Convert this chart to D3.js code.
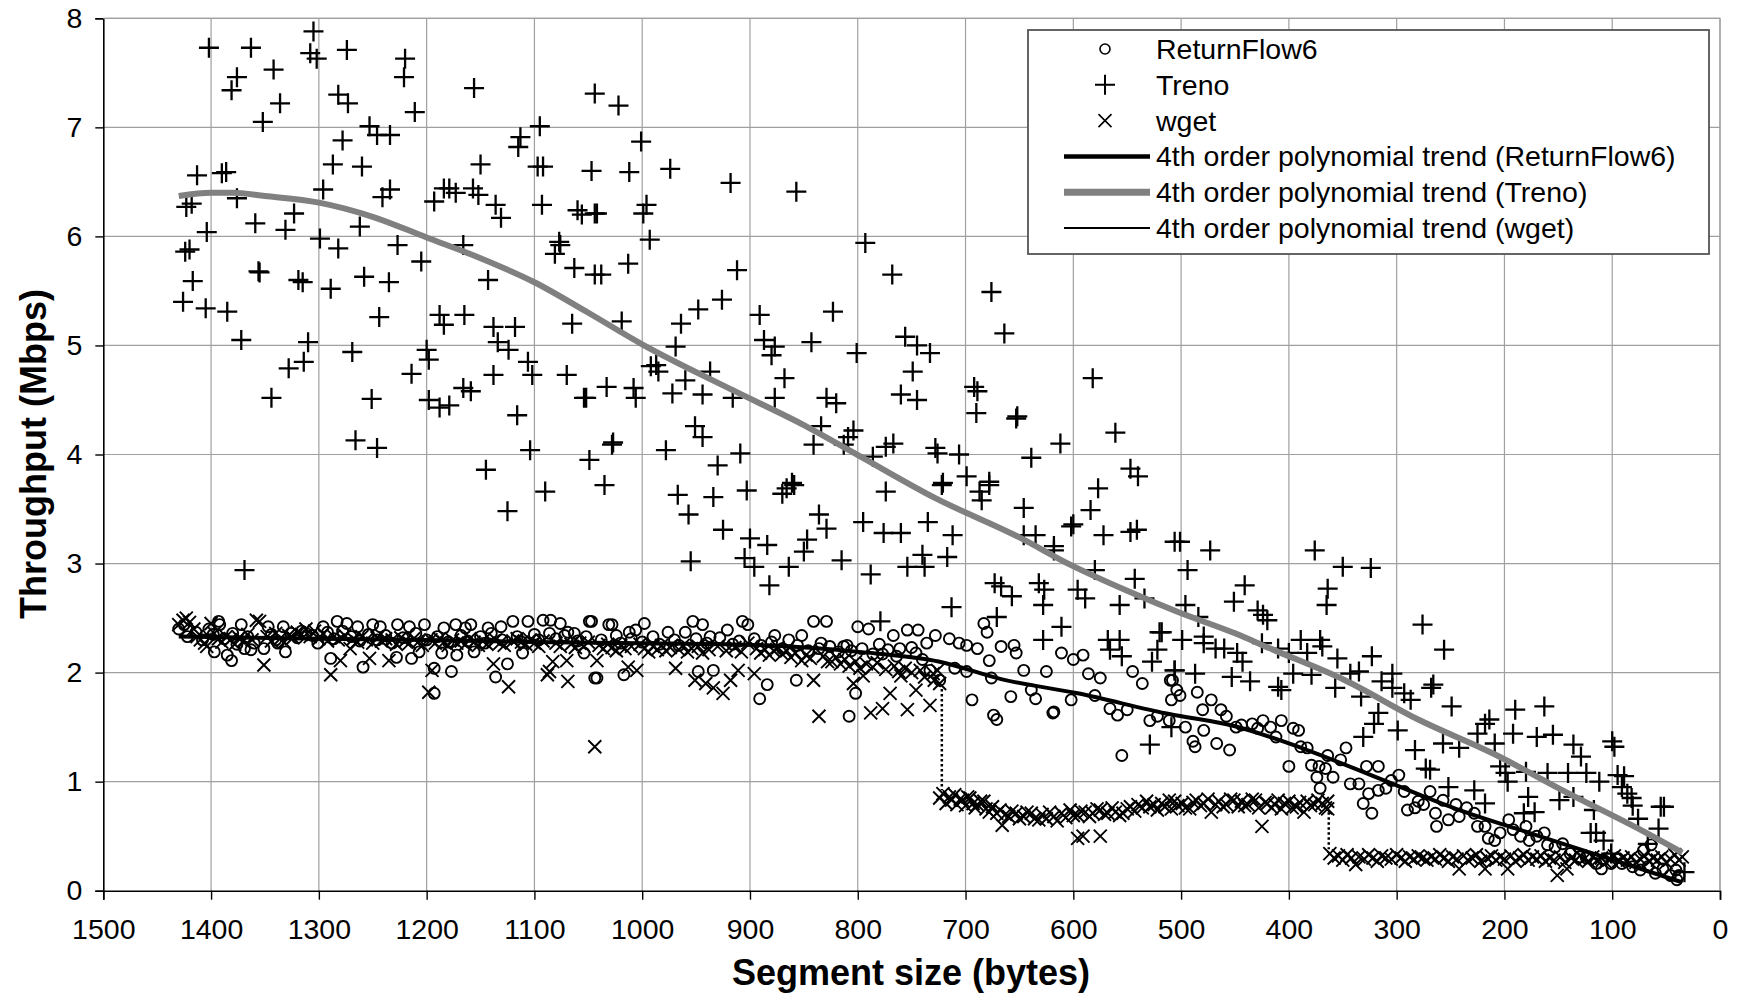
<!DOCTYPE html>
<html lang="en">
<head>
<meta charset="utf-8">
<title>Throughput vs segment size</title>
<script src="https://cdnjs.cloudflare.com/ajax/libs/d3/7.8.5/d3.min.js"></script>
<style>
  body { margin: 0; background: #fff; }
  text { font-family: "Liberation Sans", Arial, sans-serif; fill: #000; }
</style>
</head>
<body>
<script>
// axis ticks
var xTicks = [1500,1400,1300,1200,1100,1000,900,800,700,600,500,400,300,200,100,0];
var yTicks = [0,1,2,3,4,5,6,7,8];

// Treno measurements [segment size, Mbps]
var treno = [
 [1402,7.73],[1363,7.73],[1376,7.46],[1381,7.34],[1342,7.53],[1336,7.22],[1352,7.05],[1305,7.88],[1308,7.68],[1302,7.63],
 [1274,7.71],[1282,7.30],[1273,7.22],[1278,6.88],[1253,7.01],[1246,6.93],[1234,6.93],[1220,7.63],[1221,7.46],[1211,7.14],
 [1156,7.36],[1113,6.91],[1115,6.82],[1095,7.01],[1044,7.31],[1413,6.56],[1386,6.59],[1390,6.58],[1423,6.27],[1418,6.30],
 [1376,6.35],[1404,6.04],[1424,5.86],[1420,5.88],[1417,5.59],[1426,5.40],[1405,5.34],[1385,5.31],[1372,5.05],[1356,5.68],
 [1355,5.67],[1359,6.12],[1331,6.06],[1323,6.21],[1319,5.60],[1315,5.58],[1328,4.79],[1314,4.85],[1310,5.03],[1344,4.52],
 [1296,6.43],[1287,6.66],[1260,6.64],[1299,5.98],[1282,5.89],[1262,6.09],[1289,5.52],[1258,5.63],[1235,5.58],[1241,6.36],
 [1234,6.43],[1227,5.92],[1205,5.77],[1244,5.26],[1269,4.94],[1266,4.13],[1246,4.06],[1251,4.51],[1214,4.74],[1200,4.96],
 [1198,4.87],[1198,4.50],[1188,4.43],[1179,4.45],[1193,6.32],[1184,6.44],[1179,6.44],[1173,6.40],[1157,6.44],[1152,6.38],
 [1150,6.66],[1136,6.29],[1131,6.17],[1166,5.92],[1143,5.60],[1188,5.28],[1184,5.19],[1165,5.28],[1138,5.17],[1118,5.17],
 [1134,5.03],[1124,4.96],[1106,4.85],[1102,4.73],[1138,4.73],[1166,4.61],[1159,4.58],[1116,4.36],[1145,3.86],[1104,4.04],
 [1090,3.66],[1092,6.64],[1097,6.64],[1093,6.29],[1077,5.95],[1076,5.92],[1081,5.84],[1063,5.71],[1065,5.20],[1070,4.73],
 [1054,4.52],[1049,3.95],[1060,6.24],[1056,6.20],[1047,6.60],[1044,6.21],[1044,5.65],[1369,2.94],[1125,3.48],
 [1022,7.20],[1001,6.87],[1012,6.59],[974,6.62],[918,6.49],[857,6.41],[1042,6.21],[999,6.21],[996,6.29],[993,5.97],
 [793,5.94],[1038,5.65],[1013,5.75],[912,5.69],[768,5.65],[676,5.49],[664,5.11],[926,5.42],[948,5.33],[964,5.20],
 [1019,5.22],[969,4.99],[891,5.28],[887,5.05],[877,4.99],[880,4.91],[843,5.03],[823,5.31],[801,4.93],[756,5.08],
 [745,5.00],[733,4.93],[749,4.76],[760,4.55],[745,4.50],[692,4.62],[689,4.58],[690,4.38],[653,4.33],[652,4.35],
 [612,4.10],[582,4.70],[561,4.20],[547,3.87],[540,3.80],[639,3.97],[706,4.00],[726,4.01],[728,4.06],[699,3.80],
 [678,3.75],[721,3.74],[767,4.10],[774,4.07],[786,3.98],[804,4.22],[809,4.16],[813,4.09],[841,4.09],[834,4.26],
 [909,4.01],[930,3.90],[951,4.26],[944,4.16],[978,4.04],[1028,4.09],[1027,4.11],[1035,3.72],[987,4.82],[985,4.76],
 [992,4.81],[1033,4.62],[1052,4.52],[1008,4.61],[1006,4.52],[972,4.56],[960,4.68],[944,4.55],[937,4.76],[916,4.52],
 [877,4.52],[868,4.70],[829,4.52],[820,4.47],[861,3.74],[866,3.69],[903,3.67],[934,3.61],[967,3.63],[774,3.66],
 [687,3.66],[678,3.72],[870,3.64],[859,3.72],[722,3.72],[685,3.58],[577,3.69],[957,3.45],[925,3.31],[900,3.23],
 [884,3.17],[836,3.45],[829,3.32],[847,3.22],[850,3.11],[795,3.38],[776,3.28],[760,3.28],[735,3.38],[712,3.26],
 [646,3.51],[584,3.49],[602,3.34],[600,3.36],[646,3.26],[635,3.26],[618,3.16],[618,3.12],[572,3.26],[547,3.29],
 [541,3.31],[506,3.20],[955,3.02],[905,3.05],[896,2.97],[864,2.97],[815,3.03],[788,2.90],[754,2.97],[740,3.08],
 [738,2.97],[717,3.06],[882,2.80],[673,2.82],[667,2.79],[657,2.70],[632,2.82],[627,2.76],[628,2.62],[596,2.76],
 [589,2.68],[580,2.94],[557,2.62],[543,2.86],[534,2.68],[713,2.60],[671,2.51],[779,2.47],[611,2.42],[628,2.30],
 [568,2.30],[557,2.30],[566,2.21],[555,2.15],[518,2.37],[522,2.21],[527,2.10],[506,2.02],[509,1.50],[529,1.34],
 [501,3.20],[473,3.12],[494,2.94],[376,3.12],[350,2.97],[324,2.96],[364,2.77],[365,2.62],[441,2.80],[451,2.65],
 [429,2.57],[424,2.53],[420,2.48],[496,2.62],[484,2.51],[520,2.37],[499,2.30],[479,2.33],[479,2.27],[468,2.22],
 [460,2.22],[448,2.18],[443,2.10],[453,1.96],[436,1.92],[425,2.27],[410,2.22],[400,2.18],[389,2.30],[383,2.18],
 [371,2.30],[369,2.24],[355,2.13],[379,1.98],[396,1.99],[410,1.87],[407,1.84],[506,2.02],[487,1.99],[343,1.99],
 [335,2.01],[323,2.15],[314,1.92],[304,1.99],[304,1.86],[357,1.86],[333,1.78],[293,1.81],[287,1.75],[266,1.89],
 [268,1.86],[249,1.69],[276,2.44],[256,2.21],[317,1.63],[321,1.53],[299,1.47],[331,1.41],[273,1.12],[269,1.11],
 [283,1.29],[257,1.35],[242,1.31],[228,0.92],[218,0.80],[214,1.57],[218,1.53],[225,1.44],[209,1.35],[190,1.66],
 [192,1.44],[163,1.69],[170,1.41],[155,1.43],[136,1.34],[129,1.23],[124,1.08],[141,1.08],[160,1.08],[149,0.83],
 [136,0.86],[204,1.14],[199,1.08],[197,1.00],[180,1.09],[178,0.86],[172,0.72],[182,0.71],[252,0.95],[112,1.00],
 [100,1.37],[98,1.32],[95,1.06],[89,1.05],[91,0.95],[86,0.89],[82,0.85],[81,0.78],[76,0.66],[117,0.74],
 [120,0.53],[115,0.53],[108,0.46],[55,0.77],[52,0.77],[57,0.57],[67,0.43],[33,0.17],[101,0.34]
];

// ReturnFlow6 measurements
var returnFlow6 = [
 [1425,2.44],[1402,2.40],[1393,2.47],[1392,2.44],[1397,2.19],[1385,2.16],[1381,2.11],[1372,2.44],[1369,2.22],[1363,2.21],
 [1351,2.22],[1347,2.42],[1331,2.19],[1333,2.42],[1338,2.27],[1312,2.36],[1301,2.27],[1296,2.42],[1283,2.47],[1289,2.13],
 [1274,2.45],[1264,2.42],[1259,2.05],[1250,2.44],[1243,2.42],[1228,2.14],[1227,2.44],[1216,2.42],[1214,2.13],[1207,2.19],
 [1202,2.44],[1193,2.04],[1193,1.81],[1186,2.18],[1184,2.41],[1177,2.01],[1173,2.44],[1172,2.16],[1164,2.41],[1159,2.44],
 [1156,2.19],[1143,2.41],[1136,1.96],[1131,2.42],[1125,2.08],[1120,2.47],[1106,2.47],[1111,2.18],[1092,2.48],[1085,2.48],
 [1076,2.45],[1069,2.37],[1063,2.36],[1054,2.18],[1047,2.47],[1044,1.95],
 [1430,2.40],[1422,2.33],[1414,2.37],[1408,2.30],[1398,2.35],[1388,2.31],[1380,2.36],[1376,2.26],[1366,2.33],[1360,2.27],
 [1344,2.35],[1340,2.30],[1326,2.36],[1320,2.32],[1316,2.38],[1306,2.34],[1292,2.37],[1286,2.31],[1278,2.38],[1270,2.33],
 [1262,2.29],[1254,2.35],[1246,2.30],[1238,2.34],[1232,2.27],[1222,2.32],[1210,2.36],[1200,2.30],[1190,2.33],[1180,2.28],
 [1168,2.34],[1162,2.29],[1150,2.33],[1146,2.27],[1140,2.36],[1130,2.30],[1116,2.33],[1112,2.28],[1100,2.35],[1096,2.30],
 [1086,2.36],[1080,2.31],[1072,2.34],[1060,2.29],[1052,2.33],[1038,2.30],[1024,2.34],[1020,2.27],[1010,2.31],[1000,2.28],
 [990,2.33],[984,2.26],[970,2.30],[966,2.25],[950,2.31],[940,2.27],[928,2.32],[916,2.26],[910,2.29],[896,2.31],
 [890,2.25],[880,2.28],[870,2.22],[864,2.30],[856,2.25],[846,2.20],[834,2.27],[826,2.24],[818,2.19],[810,2.25],
 [806,2.20],[796,2.22],[786,2.17],[780,2.26],[772,2.21],[764,2.15],[750,2.23],[746,2.18],[740,2.12],
 [1049,2.47],[1031,2.44],[1028,2.44],[1042,1.95],[1017,1.98],[1012,2.37],[1006,2.39],[998,2.45],[976,2.37],[960,2.37],
 [953,2.47],[944,2.44],[937,2.33],[921,2.39],[948,2.01],[934,2.02],[907,2.47],[902,2.44],[877,2.34],[884,1.89],
 [891,1.76],[852,2.34],[841,2.47],[829,2.47],[857,1.93],[836,2.22],[813,2.24],[800,2.42],[790,2.40],[802,1.81],
 [808,1.60],[777,2.17],[767,2.34],[761,2.22],[754,2.39],[744,2.39],[736,2.27],[728,2.34],[733,2.02],[724,1.93],
 [715,2.31],[706,2.27],[699,2.25],[710,2.04],[699,2.01],[694,1.75],[689,2.22],[683,2.45],[680,2.37],[678,2.11],
 [676,1.95],[674,1.61],[671,1.57],[667,2.24],[658,1.78],[655,2.25],[653,2.18],[646,2.02],[639,1.84],[635,1.76],
 [625,2.01],[619,1.63],[618,1.64],[611,2.18],[602,1.75],[600,2.12],[591,2.16],[586,1.99],[580,1.79],[575,1.95],
 [566,1.67],[559,1.61],[550,1.66],[555,1.24],[545,2.01],[536,1.90],[529,1.56],[522,1.60],[508,1.93],[509,1.75],
 [510,1.93],[504,1.84],[501,1.79],[511,1.56],[496,1.50],[489,1.37],[487,1.32],[485,1.82],[480,1.66],[479,1.47],
 [472,1.75],[467,1.35],[463,1.66],[458,1.60],[455,1.29],[449,1.50],[444,1.52],[434,1.53],[429,1.49],[424,1.56],
 [417,1.50],[412,1.41],[407,1.56],[400,1.14],[396,1.49],[391,1.47],[389,1.32],[383,1.31],[379,1.15],[374,1.04],
 [371,0.94],[372,1.14],[366,1.12],[364,1.24],[359,1.04],[352,1.20],[347,1.31],[343,0.98],[335,0.98],[331,0.80],
 [323,0.71],[328,1.14],[326,0.89],[317,1.14],[317,0.92],[310,0.94],[305,1.01],[298,1.06],[293,0.91],[290,0.74],
 [283,0.76],[280,0.82],[275,0.79],[269,0.91],[264,0.71],[263,0.59],[257,0.83],[252,0.65],[245,0.79],[242,0.68],
 [235,0.76],[228,0.71],[225,0.59],[218,0.59],[215,0.48],[209,0.46],[204,0.53],[196,0.65],[192,0.56],[185,0.50],
 [180,0.59],[177,0.46],[170,0.50],[163,0.53],[160,0.42],[153,0.40],[146,0.43],[139,0.34],[130,0.31],[124,0.30],
 [115,0.25],[110,0.20],[101,0.25],[91,0.25],[81,0.22],[74,0.19],[67,0.22],[60,0.16],[53,0.20],[46,0.14],
 [40,0.10],[38,0.14],[41,0.19],[64,0.42],[71,0.37]
];

// wget measurements
var wget = [
 [1430,2.44],[1426,2.48],[1423,2.50],[1420,2.46],[1416,2.40],[1413,2.33],[1410,2.30],[1406,2.27],[1404,2.24],[1400,2.45],
 [1397,2.36],[1393,2.31],[1390,2.28],[1386,2.33],[1382,2.30],[1378,2.26],[1374,2.32],[1370,2.29],[1366,2.35],[1362,2.30],
 [1358,2.48],[1355,2.47],[1351,2.07],[1348,2.33],[1344,2.29],[1340,2.36],[1336,2.31],[1332,2.28],[1328,2.34],[1324,2.32],
 [1320,2.37],[1316,2.35],[1312,2.40],[1308,2.33],[1304,2.38],[1300,2.31],[1296,2.36],[1292,2.29],[1289,1.98],[1286,2.33],
 [1282,2.30],[1280,2.11],[1276,2.34],[1271,2.22],[1268,2.31],[1264,2.28],[1260,2.33],[1256,2.30],[1253,2.13],[1250,2.27],
 [1246,2.32],[1242,2.29],[1238,2.31],[1235,2.11],[1232,2.30],[1228,2.26],[1224,2.32],[1220,2.29],[1216,2.27],[1212,2.31],
 [1208,2.28],[1204,2.25],[1198,1.82],[1196,2.30],[1195,2.02],[1192,2.27],[1188,2.31],[1184,2.28],[1180,2.25],[1176,2.30],
 [1172,2.27],[1168,2.29],[1164,2.26],[1160,2.31],[1156,2.28],[1152,2.25],[1148,2.29],[1144,2.26],[1138,2.08],[1136,2.30],
 [1132,2.27],[1128,2.25],[1124,1.87],[1120,2.29],[1116,2.31],[1112,2.28],[1108,2.26],[1104,2.30],[1100,2.27],[1096,2.24],
 [1092,2.29],[1088,1.98],[1086,2.01],[1083,2.10],[1080,2.27],[1076,2.24],[1070,2.11],[1069,1.92],[1066,2.26],[1062,2.23],
 [1058,2.27],[1054,2.24],[1050,2.28],[1044,1.32],[1042,2.11],[1040,2.25],[1036,2.22],[1032,2.26],[1028,2.23],[1024,2.20],
 [1020,2.25],[1016,2.22],[1013,2.05],[1010,2.24],[1005,2.02],[1002,2.26],[998,2.22],[994,2.19],[990,2.24],[986,2.21],
 [982,2.25],[978,2.20],[974,2.23],[969,2.04],[966,2.21],[962,2.25],[958,2.19],[954,2.22],[951,1.93],[948,2.24],
 [944,2.18],[941,1.90],[938,2.21],[934,1.86],[930,2.24],[925,1.81],[922,2.20],[918,1.93],[914,2.23],[911,2.02],
 [908,2.19],[902,2.27],[896,1.99],[894,2.22],[890,2.18],[886,2.21],[882,2.16],[878,2.20],[874,2.23],[870,2.17],
 [866,2.20],[862,2.14],[858,2.18],[852,2.11],[848,2.16],[844,2.13],[841,1.93],[836,1.60],[832,2.15],[828,2.10],
 [824,2.10],[820,2.14],[816,2.08],[812,2.12],[808,2.06],[804,1.90],[802,2.10],[798,2.04],[795,1.97],[792,2.08],
 [788,1.63],[786,2.05],[782,2.09],[777,1.67],[774,2.03],[770,1.81],[766,2.06],[762,2.01],[760,1.97],[756,2.04],
 [754,1.66],[750,2.00],[746,1.84],[742,2.02],[738,1.96],[733,1.70],[730,1.99],[729,1.93],[726,2.02],[724,1.90],
 [724,0.85],[721,0.89],[718,0.80],[715,0.86],[713,0.83],[710,0.88],[708,0.79],[705,0.84],[703,0.83],[700,0.78],
 [698,0.86],[696,0.85],[693,0.80],[691,0.76],[689,0.79],[686,0.82],[683,0.82],[681,0.75],[678,0.72],[675,0.77],
 [671,0.71],[668,0.74],[666,0.60],[663,0.70],[660,0.68],[657,0.73],[653,0.71],[650,0.66],[646,0.68],[643,0.72],
 [639,0.71],[636,0.66],[632,0.65],[629,0.70],[625,0.66],[622,0.72],[618,0.68],[615,0.64],[611,0.71],[607,0.67],
 [603,0.74],[600,0.69],[596,0.69],[596,0.48],[593,0.73],[591,0.50],[589,0.72],[585,0.68],[582,0.71],[578,0.75],
 [575,0.74],[575,0.50],[571,0.70],[568,0.71],[564,0.76],[561,0.72],[557,0.69],[554,0.71],[550,0.75],[547,0.77],
 [543,0.73],[540,0.79],[536,0.76],[532,0.82],[529,0.77],[525,0.79],[522,0.74],[518,0.80],[515,0.77],[511,0.83],
 [509,0.75],[506,0.82],[503,0.78],[499,0.80],[496,0.76],[492,0.75],[489,0.81],[486,0.83],[482,0.78],[479,0.80],
 [475,0.84],[472,0.72],[468,0.79],[465,0.82],[461,0.77],[458,0.79],[454,0.84],[451,0.83],[447,0.77],[444,0.82],
 [441,0.78],[438,0.79],[434,0.84],[431,0.83],[428,0.76],[425,0.59],[422,0.81],[420,0.80],[416,0.76],[413,0.79],
 [410,0.83],[407,0.75],[404,0.80],[400,0.82],[397,0.76],[393,0.77],[390,0.81],[386,0.72],[383,0.82],[380,0.78],
 [376,0.79],[373,0.83],[369,0.80],[366,0.76],[364,0.75],[364,0.82],
 [362,0.34],[358,0.30],[354,0.32],[350,0.28],[346,0.33],[342,0.30],[338,0.24],[335,0.31],[330,0.29],[326,0.33],
 [322,0.30],[318,0.27],[314,0.32],[310,0.30],[305,0.29],[300,0.33],[296,0.30],[292,0.27],[288,0.31],[284,0.29],
 [280,0.32],[276,0.30],[272,0.28],[268,0.31],[264,0.29],[260,0.33],[256,0.30],[252,0.27],[248,0.31],[244,0.29],
 [242,0.20],[238,0.32],[234,0.28],[230,0.30],[226,0.33],[222,0.27],[218,0.20],[216,0.30],[212,0.32],[208,0.28],
 [204,0.31],[200,0.29],[197,0.20],[194,0.32],[190,0.27],[186,0.30],[182,0.33],[178,0.28],[174,0.31],[170,0.29],
 [166,0.32],[162,0.27],[158,0.30],[154,0.28],[151,0.14],[148,0.31],[144,0.26],[142,0.20],[138,0.30],[134,0.28],
 [130,0.32],[126,0.29],[122,0.27],[118,0.31],[114,0.28],[110,0.30],[106,0.26],[102,0.29],[98,0.32],[94,0.27],
 [90,0.30],[86,0.28],[82,0.31],[78,0.26],[74,0.29],[70,0.32],[66,0.27],[62,0.30],[58,0.28],[54,0.31],
 [50,0.26],[46,0.29],[42,0.33],[38,0.28],[35,0.31]
];

// trend curves
var trenoTrend = [[1430,6.37],[1400,6.40],[1380,6.40],[1350,6.37],[1300,6.31],[1250,6.18],[1200,5.99],[1150,5.80],
 [1100,5.58],[1050,5.30],[1000,5.01],[916,4.59],[850,4.27],[799,3.99],[728,3.60],[650,3.24],[603,2.99],[550,2.75],
 [504,2.56],[450,2.36],[417,2.22],[348,1.93],[280,1.57],[211,1.26],[142,0.90],[74,0.56],[35,0.35]];
var rf6Trend = [[1430,2.33],[1300,2.31],[1200,2.30],[1100,2.28],[1000,2.27],[887,2.25],[799,2.19],[724,2.10],
 [667,1.94],[596,1.81],[511,1.62],[451,1.51],[383,1.29],[314,1.02],[245,0.75],[177,0.53],[108,0.31],[36,0.08]];
var wgetSteps = [[722,1.85,0.92],[363,0.72,0.38]];

var legendItems = [
  {label: "ReturnFlow6", kind: "circle"},
  {label: "Treno", kind: "plus"},
  {label: "wget", kind: "cross"},
  {label: "4th order polynomial trend (ReturnFlow6)", kind: "line", color: "#000", width: 4.5},
  {label: "4th order polynomial trend (Treno)", kind: "line", color: "#808080", width: 7},
  {label: "4th order polynomial trend (wget)", kind: "line", color: "#000", width: 2}
];

var W = 1740, H = 993;
var svg = d3.select("body").append("svg").attr("width", W).attr("height", H);
svg.append("rect").attr("width", W).attr("height", H).attr("fill", "#fff");

var x = d3.scaleLinear().domain([1500, 0]).range([103.3, 1720]);
var y = d3.scaleLinear().domain([0, 8]).range([890.7, 18.3]);

// grid
svg.append("g").selectAll("line").data(xTicks.slice(1)).join("line")
  .attr("x1", d => x(d)).attr("x2", d => x(d))
  .attr("y1", y(8)).attr("y2", y(0))
  .attr("stroke", "#a0a0a0").attr("stroke-width", 1.2);
svg.append("g").selectAll("line").data(yTicks.slice(1)).join("line")
  .attr("x1", x(1500)).attr("x2", x(0))
  .attr("y1", d => y(d)).attr("y2", d => y(d))
  .attr("stroke", "#a0a0a0").attr("stroke-width", 1.2);

// axes
var xAxis = svg.append("g").attr("transform", "translate(0," + y(0) + ")")
  .call(d3.axisBottom(x).tickValues(xTicks).tickFormat(d3.format("d")).tickSize(9).tickPadding(19));
var yAxis = svg.append("g").attr("transform", "translate(" + x(1500) + ",0)")
  .call(d3.axisLeft(y).tickValues(yTicks).tickFormat(d3.format("d")).tickSize(8).tickPadding(13));
[xAxis, yAxis].forEach(function(a) {
  a.select(".domain").attr("stroke", "#000").attr("stroke-width", 1.6);
  a.selectAll(".tick line").attr("stroke", "#000").attr("stroke-width", 1.4);
  a.selectAll("text").style("font-size", "28.5px")
    .style("font-family", '"Liberation Sans", Arial, sans-serif').attr("fill", "#000");
});

// markers
var plusPath = "M-10,0H10M0,-10V10";
var crossPath = "M-6.5,-6.5L6.5,6.5M-6.5,6.5L6.5,-6.5";

svg.append("g").selectAll("circle").data(returnFlow6).join("circle")
  .attr("cx", d => x(d[0])).attr("cy", d => y(d[1])).attr("r", 5.5)
  .attr("fill", "none").attr("stroke", "#000").attr("stroke-width", 1.9);

svg.append("g").selectAll("path").data(treno).join("path")
  .attr("transform", d => "translate(" + x(d[0]) + "," + y(d[1]) + ")")
  .attr("d", plusPath).attr("stroke", "#000").attr("stroke-width", 2.3).attr("fill", "none");

svg.append("g").selectAll("path").data(wget).join("path")
  .attr("transform", d => "translate(" + x(d[0]) + "," + y(d[1]) + ")")
  .attr("d", crossPath).attr("stroke", "#000").attr("stroke-width", 1.9).attr("fill", "none");

// trend lines
var line = d3.line().x(d => x(d[0])).y(d => y(d[1])).curve(d3.curveMonotoneX);
svg.append("path").datum(trenoTrend).attr("d", line)
  .attr("fill", "none").attr("stroke", "#808080").attr("stroke-width", 6);
svg.append("path").datum(rf6Trend).attr("d", line)
  .attr("fill", "none").attr("stroke", "#000").attr("stroke-width", 4);

svg.append("g").selectAll("line").data(wgetSteps).join("line")
  .attr("x1", d => x(d[0])).attr("x2", d => x(d[0]))
  .attr("y1", d => y(d[1])).attr("y2", d => y(d[2]))
  .attr("stroke", "#000").attr("stroke-width", 2.5).attr("stroke-dasharray", "2.5,2.5");

// plot border (top & right)
svg.append("path")
  .attr("d", "M" + x(1500) + "," + y(8) + "H" + x(0) + "V" + y(0))
  .attr("fill", "none").attr("stroke", "#a0a0a0").attr("stroke-width", 1.2);

// legend
var lg = svg.append("g").attr("transform", "translate(1028,30)");
lg.append("rect").attr("width", 681).attr("height", 224)
  .attr("fill", "#fff").attr("stroke", "#555").attr("stroke-width", 1.8);
var rows = lg.selectAll("g").data(legendItems).join("g")
  .attr("transform", (d, i) => "translate(0," + (19 + i * 35.8) + ")");
rows.each(function(d) {
  var g = d3.select(this);
  if (d.kind === "circle") {
    g.append("circle").attr("cx", 77).attr("cy", 0).attr("r", 5)
      .attr("fill", "none").attr("stroke", "#000").attr("stroke-width", 1.6);
  } else if (d.kind === "plus") {
    g.append("path").attr("transform", "translate(77,0)").attr("d", plusPath)
      .attr("stroke", "#000").attr("stroke-width", 2);
  } else if (d.kind === "cross") {
    g.append("path").attr("transform", "translate(77,0)").attr("d", crossPath)
      .attr("stroke", "#000").attr("stroke-width", 1.6);
  } else {
    g.append("line").attr("x1", 36).attr("x2", 122).attr("y1", 0).attr("y2", 0)
      .attr("stroke", d.color).attr("stroke-width", d.width);
  }
  g.append("text").attr("x", 128).attr("y", 0).attr("dy", "0.35em")
    .style("font-size", "28.5px").text(d.label);
});

// axis titles
svg.append("text").attr("x", 911).attr("y", 985).attr("text-anchor", "middle")
  .style("font-size", "36px").style("font-weight", "bold").text("Segment size (bytes)");
svg.append("text").attr("transform", "translate(46,454) rotate(-90)").attr("text-anchor", "middle")
  .style("font-size", "36px").style("font-weight", "bold").text("Throughput (Mbps)");
</script>
</body>
</html>
